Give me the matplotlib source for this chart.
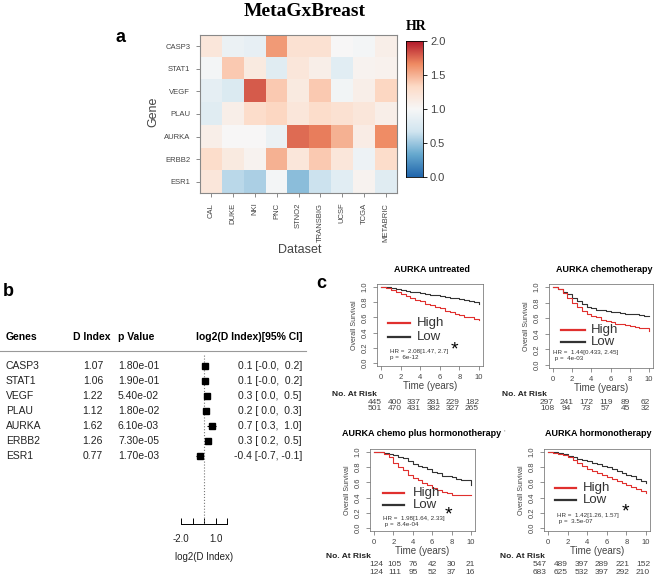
import numpy as np
import matplotlib
matplotlib.use('Agg')
import matplotlib.pyplot as plt
from matplotlib.colors import LinearSegmentedColormap
from matplotlib.lines import Line2D

plt.rcParams['font.family'] = ['Liberation Sans', 'DejaVu Sans']

# ---- data: heatmap (HR per gene x dataset) ----
genes = ['CASP3', 'STAT1', 'VEGF', 'PLAU', 'AURKA', 'ERBB2', 'ESR1']
datasets = ['CAL', 'DUKE', 'NKI', 'PNC', 'STNO2', 'TRANSBIG', 'UCSF', 'TCGA', 'METABRIC']
hr_casp3 = [1.20, 0.90, 0.86, 1.60, 1.25, 1.25, 1.00, 0.97, 1.10]
hr_stat1 = [0.97, 1.40, 1.15, 0.80, 1.20, 1.10, 0.82, 1.05, 1.07]
hr_vegf = [0.85, 0.76, 1.80, 1.40, 1.15, 1.40, 0.95, 1.10, 1.35]
hr_plau = [0.80, 1.10, 1.30, 1.35, 1.20, 1.30, 1.25, 1.20, 1.10]
hr_aurka = [1.10, 1.00, 1.00, 0.90, 1.75, 1.70, 1.50, 1.12, 1.65]
hr_erbb2 = [1.30, 1.15, 1.05, 1.50, 1.20, 1.40, 1.20, 0.92, 1.30]
hr_esr1 = [1.20, 0.60, 0.55, 0.97, 0.45, 0.65, 0.82, 1.05, 0.80]

# ---- data: forest table ----
d_index = [1.07, 1.06, 1.22, 1.12, 1.62, 1.26, 0.77]
p_value = ['1.80e-01', '1.90e-01', '5.40e-02', '1.80e-02', '6.10e-03', '7.30e-05', '1.70e-03']
ci_lo = [-0.04, -0.04, 0.0, 0.0, 0.3, 0.2, -0.7]
ci_hi = [0.2, 0.2, 0.5, 0.3, 1.0, 0.5, -0.1]

# ---- data: Kaplan-Meier panels ----
risk_times = [0, 2, 4, 6, 8, 10]
km_titles = ['AURKA untreated', 'AURKA chemotherapy',
             'AURKA chemo plus hormonotherapy', 'AURKA hormonotherapy']
km_hr = ['HR =  2.08[1.47, 2.7]', 'HR =  1.44[0.433, 2.45]',
         'HR =  1.98[1.64, 2.33]', 'HR =  1.42[1.26, 1.57]']
km_p = ['p =  6e-12', ' p =  4e-03', ' p =  8.4e-04', ' p =  3.5e-07']
km_star = [True, False, True, True]

t_untreated = [0, 0.5, 1, 1.5, 2, 2.5, 3, 3.5, 4, 4.5, 5, 5.5, 6, 6.5, 7, 7.5, 8, 8.5, 9, 9.5, 10]
high_untreated = [1.0, 0.99, 0.96, 0.93, 0.91, 0.88, 0.86, 0.83, 0.81, 0.78, 0.76, 0.74, 0.72, 0.69,
                  0.67, 0.65, 0.63, 0.61, 0.60, 0.58, 0.57]
low_untreated = [1.0, 1.0, 0.99, 0.97, 0.96, 0.95, 0.94, 0.93, 0.92, 0.91, 0.90, 0.89, 0.88, 0.87,
                 0.86, 0.85, 0.84, 0.83, 0.81, 0.80, 0.77]
t_chemo = [0, 0.5, 1, 1.5, 2, 2.5, 3, 3.5, 4, 4.5, 5, 5.5, 6, 6.5, 7, 7.5, 8, 8.5, 9, 9.5, 10]
high_chemo = [1.0, 0.97, 0.92, 0.86, 0.80, 0.74, 0.69, 0.66, 0.63, 0.61, 0.58, 0.57, 0.55, 0.53,
              0.52, 0.51, 0.50, 0.49, 0.48, 0.47, 0.44]
low_chemo = [1.0, 0.97, 0.93, 0.91, 0.86, 0.82, 0.78, 0.75, 0.73, 0.71, 0.70, 0.69, 0.68, 0.68,
             0.67, 0.66, 0.66, 0.65, 0.64, 0.63, 0.63]
t_chemohorm = [0, 0.5, 1, 1.5, 2, 2.5, 3, 3.5, 4, 4.5, 5, 5.5, 6, 6.5, 7, 7.5, 8, 8.5, 9, 9.5, 10]
high_chemohorm = [1.0, 1.0, 0.98, 0.93, 0.86, 0.80, 0.76, 0.70, 0.66, 0.63, 0.59, 0.56, 0.53, 0.50,
                  0.48, 0.46, 0.44, 0.43, 0.43, 0.43, 0.43]
low_chemohorm = [1.0, 1.0, 0.99, 0.97, 0.96, 0.94, 0.92, 0.88, 0.84, 0.82, 0.80, 0.77, 0.74, 0.72,
                 0.69, 0.68, 0.67, 0.64, 0.63, 0.63, 0.57]
t_horm = [0, 0.5, 1, 1.5, 2, 2.5, 3, 3.5, 4, 4.5, 5, 5.5, 6, 6.5, 7, 7.5, 8, 8.5, 9, 9.5, 10]
high_horm = [1.0, 0.99, 0.98, 0.96, 0.93, 0.89, 0.85, 0.81, 0.78, 0.75, 0.73, 0.70, 0.67, 0.65,
             0.62, 0.59, 0.57, 0.54, 0.51, 0.49, 0.46]
low_horm = [1.0, 1.0, 0.99, 0.97, 0.95, 0.93, 0.91, 0.90, 0.88, 0.86, 0.84, 0.82, 0.80, 0.78,
            0.75, 0.73, 0.70, 0.68, 0.65, 0.62, 0.59]
risk_high = [[445, 400, 337, 281, 229, 182], [297, 241, 172, 119, 89, 62],
             [124, 105, 76, 42, 30, 21], [547, 489, 397, 289, 221, 152]]
risk_low = [[501, 470, 431, 382, 327, 265], [108, 94, 73, 57, 45, 32],
            [124, 111, 95, 52, 37, 16], [683, 625, 532, 397, 292, 210]]

W, H = 657, 581
fig = plt.figure(figsize=(W / 100, H / 100), dpi=100)


def box(l, t, r, b):
    return [l / W, 1 - b / H, (r - l) / W, (b - t) / H]


def ftext(x, y, s, **kw):
    kw.setdefault('ha', 'center')
    kw.setdefault('va', 'center')
    return fig.text(x / W, 1 - y / H, s, **kw)


GRAY = '#444444'

# ---------------- panel a: heatmap ----------------
cmap = LinearSegmentedColormap.from_list(
    'rdbu7', ['#2166AC', '#67A9CF', '#D1E5F0', '#F7F7F7', '#FDDBC7', '#EF8A62', '#B2182B'])
hr = np.array([hr_casp3, hr_stat1, hr_vegf, hr_plau, hr_aurka, hr_erbb2, hr_esr1])

ax = fig.add_axes(box(200, 35, 397, 193))
ax.imshow(hr, cmap=cmap, vmin=0, vmax=2, aspect='auto', interpolation='nearest')
ax.set_xticks(range(len(datasets)))
ax.set_xticklabels(datasets, rotation=90, fontsize=5.5, color=GRAY)
ax.set_yticks(range(len(genes)))
ax.set_yticklabels(genes, fontsize=5.5, color=GRAY)
ax.tick_params(length=3, width=0.6, color='#777777', pad=4)
for s in ax.spines.values():
    s.set_color('#888888')
    s.set_linewidth(0.8)

ftext(153, 112, 'Gene', rotation=90, fontsize=9, color=GRAY)
ftext(300, 250, 'Dataset', fontsize=9, color=GRAY)

cax = fig.add_axes(box(406, 41, 423, 177))
cax.imshow(np.linspace(0, 2, 256)[:, None], cmap=cmap, vmin=0, vmax=2, aspect='auto',
           origin='lower', extent=[0, 1, 0, 2])
cax.set_xticks([])
cax.yaxis.tick_right()
cax.set_yticks([0, 0.5, 1.0, 1.5, 2.0])
cax.set_yticklabels(['0.0', '0.5', '1.0', '1.5', '2.0'], fontsize=8, color=GRAY)
cax.tick_params(length=3, width=0.6, pad=2)
for s in cax.spines.values():
    s.set_linewidth(0.6)
ftext(416, 27, 'HR', fontsize=10, fontweight='bold', family='Liberation Serif')

ftext(305, 12, 'MetaGxBreast', fontsize=14, fontweight='bold', family='Liberation Serif')
ftext(121, 37, 'a', fontsize=13, fontweight='bold')
ftext(8, 292, 'b', fontsize=13, fontweight='bold')
ftext(321, 283, 'c', fontsize=13, fontweight='bold')

# ---------------- panel b: forest table ----------------
ftext(6, 337, 'Genes', ha='left', fontsize=7.5, fontweight='bold')
ftext(73, 337, 'D Index', ha='left', fontsize=7.5, fontweight='bold')
ftext(118, 337, 'p Value', ha='left', fontsize=7.5, fontweight='bold')
ftext(302, 337, 'log2(D Index)[95% CI]', ha='right', fontsize=7.5, fontweight='bold')
fig.add_artist(Line2D([0, 306 / W], [1 - 351 / H, 1 - 351 / H], transform=fig.transFigure,
                      color='#999999', lw=0.8))

log2d = np.log2(d_index)
for i, g in enumerate(genes):
    y = 366 + 15 * i
    ftext(6, y, g, ha='left', fontsize=7.5, color='#222222')
    ftext(103, y, f'{d_index[i]:.2f}', ha='right', fontsize=7.5, color='#222222')
    ftext(118, y, p_value[i], ha='left', fontsize=7.5, color='#222222')
    ftext(302, y, f'{log2d[i]:.1f} [{ci_lo[i]:4.1f}, {ci_hi[i]:4.1f}]', ha='right',
          fontsize=7.5, color='#222222')

fax = fig.add_axes(box(150, 351, 260, 524))
fax.set_xlim((150 - 204) / 11.5, (260 - 204) / 11.5)
fax.set_ylim(-10.533, 1)
rows = -np.arange(len(genes))
fax.plot([0, 0], [-10.533, 0.73], ':', color='#777777', lw=0.8)
fax.hlines(rows, ci_lo, ci_hi, color='black', lw=0.8)
fax.plot(log2d, rows, 's', color='black', ms=3.8)
for k in ['top', 'right', 'left']:
    fax.spines[k].set_visible(False)
fax.spines['bottom'].set_bounds(-2, 2)
fax.spines['bottom'].set_linewidth(0.7)
fax.set_yticks([])
fax.set_xticks([-2, -1, 0, 1, 2])
fax.set_xticklabels(['-2.0', '', '', '1.0', ''], fontsize=7, color='#222222')
fax.tick_params(axis='x', direction='in', length=4, width=0.7, pad=7)
fax.patch.set_alpha(0)
ftext(204, 557, 'log2(D Index)', fontsize=7, color='#222222')

# ---------------- panel c: Kaplan-Meier ----------------
km_times = [t_untreated, t_chemo, t_chemohorm, t_horm]
km_high = [high_untreated, high_chemo, high_chemohorm, high_horm]
km_low = [low_untreated, low_chemo, low_chemohorm, low_horm]

# layout (pixels): x of year 0, x of year 10, y of surv 1, y of surv 0
frames = [(381, 479, 287, 363), (553, 649, 287, 365), (374, 471, 452, 528), (548, 646, 452, 528)]
title_pos = [(432, 270), (604, 270), (422, 433), (598, 433)]
leg_y = [(0.53, 0.34), (0.45, 0.30), (0.46, 0.30), (0.53, 0.37)]
leg_x = [(0.7, 3.0, 3.7), (0.8, 3.3, 3.9), (0.9, 3.1, 4.0), (0.7, 2.9, 3.6)]
hr_xy = [(0.9, 0.15, 0.07), (0.0, 0.16, 0.08), (0.9, 0.12, 0.04), (0.9, 0.16, 0.08)]
star_xy = [(7.5, 0.17), None, (7.7, 0.17), (7.9, 0.21)]
risk_lab = [(332, 395), (502, 395), (326, 556), (500, 556)]
risk_rows = [(402, 409), (402, 409), (565, 572), (565, 572)]
risk_cols = [(375, 19.4), (547, 19.6), (376, 18.8), (540, 20.6)]

for k in range(4):
    x0, x10, y1, y0 = frames[k]
    sx = (x10 - x0) / 10.0
    sy = (y0 - y1) / 1.0
    l, r = x0 - 0.4 * sx, x10 + 0.4 * sx
    t, b = y1 - 0.04 * sy, y0 + 0.04 * sy
    kax = fig.add_axes(box(l, t, r, b))
    kax.set_xlim(-0.4, 10.4)
    kax.set_ylim(-0.04, 1.04)
    kax.plot(km_times[k], km_low[k], drawstyle='steps-post', color='#333333', lw=0.8)
    kax.plot(km_times[k], km_high[k], drawstyle='steps-post', color='#e0302e', lw=0.8)
    lx0, lx1, tx = leg_x[k]
    kax.plot([lx0, lx1], [leg_y[k][0]] * 2, color='#e0302e', lw=1.6)
    kax.plot([lx0, lx1], [leg_y[k][1]] * 2, color='#333333', lw=1.6)
    kax.text(tx, leg_y[k][0], 'High', fontsize=9.5, va='center', color='#333333')
    kax.text(tx, leg_y[k][1], 'Low', fontsize=9.5, va='center', color='#333333')
    hx, hy, py = hr_xy[k]
    kax.text(hx, hy, km_hr[k], fontsize=4.5, va='center', color='#333333')
    kax.text(hx, py, km_p[k], fontsize=4.5, va='center', color='#333333')
    if km_star[k]:
        kax.text(star_xy[k][0], star_xy[k][1], '*', fontsize=14, ha='center', va='center')
    kax.set_xticks(risk_times)
    kax.set_yticks([0, 0.2, 0.4, 0.6, 0.8, 1.0])
    kax.set_yticklabels(['0.0', '0.2', '0.4', '0.6', '0.8', '1.0'], rotation=90, va='center')
    kax.tick_params(labelsize=5.5, labelcolor=GRAY, length=3, width=0.5, color='#666666', pad=3)
    for s in kax.spines.values():
        s.set_linewidth(0.5)
        s.set_color('#666666')
    kax.set_xlabel('Time (years)', fontsize=7, color=GRAY, labelpad=0)
    kax.set_ylabel('Overall Survival', fontsize=5, color=GRAY, labelpad=3)

    ftext(title_pos[k][0], title_pos[k][1], km_titles[k], fontsize=6.5, fontweight='bold')
    ftext(risk_lab[k][0], risk_lab[k][1], 'No. At Risk', ha='left', fontsize=6,
          fontweight='bold', color='#222222')
    cx, step = risk_cols[k]
    for j in range(len(risk_times)):
        ftext(cx + step * j, risk_rows[k][0], str(risk_high[k][j]), fontsize=6, color=GRAY)
        ftext(cx + step * j, risk_rows[k][1], str(risk_low[k][j]), fontsize=6, color=GRAY)

ftext(504, 433, "'", fontsize=6, color='#888888')

fig.savefig('out.png', dpi=100)
